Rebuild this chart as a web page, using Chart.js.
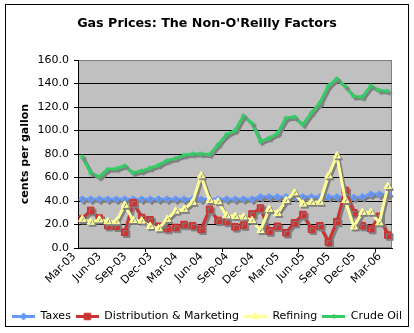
<!DOCTYPE html>
<html>
<head>
<meta charset="utf-8">
<script src="https://cdn.jsdelivr.net/npm/chart.js@4.4.0/dist/chart.umd.min.js"></script>
<style>
  html, body { margin: 0; padding: 0; background: #fff; }
  #wrap { width: 414px; height: 333px; }
</style>
</head>
<body>
<div id="wrap"><canvas id="c" width="414" height="333"></canvas></div>
<script>
// Monthly components of a gallon of gasoline, cents per gallon
const months = ['Mar-03','Apr-03','May-03','Jun-03','Jul-03','Aug-03','Sep-03','Oct-03','Nov-03','Dec-03',
  'Jan-04','Feb-04','Mar-04','Apr-04','May-04','Jun-04','Jul-04','Aug-04','Sep-04','Oct-04','Nov-04','Dec-04',
  'Jan-05','Feb-05','Mar-05','Apr-05','May-05','Jun-05','Jul-05','Aug-05','Sep-05','Oct-05','Nov-05','Dec-05',
  'Jan-06','Feb-06','Mar-06'];

const taxes = [41.5,41.5,41.5,41.5,41.5,41.5,41.5,41.5,41.5,41.5,
  41.5,41.5,41.5,41.5,41.5,41.5,41.5,41.5,41.5,41.5,41.5,43.5,
  43.5,43.5,43.5,43.5,43.5,43.5,43.5,43.5,43.5,43.5,43,43.5,
  45.7,45.7,45.7];

const distribution = [25,32,25.5,19,18.5,13.5,38.5,26,24,18.5,
  16.5,17.5,20,19,16,33,23.5,22.5,18,19.5,29,34,
  14.5,18.5,13,21.5,28.5,16,19,5,22.5,49,30,19,
  16.5,27,11];

const refining = [24.5,22,24,22.5,22.5,36.5,23.5,23,18.5,16.5,
  24.5,31.5,33,39,61.5,40.5,39.5,27.5,27,26.5,23.5,15,
  33,29.5,40.5,47,37.5,39,39,61.5,78.5,40.5,18,30.5,
  30.5,21.5,52.5];

const crudeOil = [77.5,64,60.5,67,67.5,70,64,65.5,68,70.5,
  74.3,76.3,79,80,80,79.5,88,96.5,100,112.5,106,90.5,
  93.5,97.5,110.5,111.5,105,115,123.5,138,144,137.5,129,128.5,
  138,134,133.5];

const yTicks = { min: 0, max: 160, step: 20 };

const FONT = "'DejaVu Sans', Verdana, sans-serif";
Chart.defaults.font.family = FONT;
Chart.defaults.font.size = 11;
Chart.defaults.color = '#000';

const series = [
  { label: 'Taxes', data: taxes, color: '#6699FF', style: 'rectRot', radius: 3.5, order: 3 },
  { label: 'Distribution & Marketing', data: distribution, color: '#CC3333', style: 'rect', radius: 4.6, order: 2 },
  { label: 'Refining', data: refining, color: '#FFFF99', style: 'triangle', radius: 4.2, order: 1 },
  { label: 'Crude Oil', data: crudeOil, color: '#33CC66', style: 'star', radius: 2.6, order: 0 }
];

// Small line-plus-marker swatches for the legend
function legendIcon(s) {
  const cv = document.createElement('canvas');
  cv.width = 23; cv.height = 11;
  const g = cv.getContext('2d');
  g.strokeStyle = s.color; g.lineWidth = 3;
  g.beginPath(); g.moveTo(0, 5.5); g.lineTo(23, 5.5); g.stroke();
  g.fillStyle = s.color; g.strokeStyle = s.color; g.lineWidth = 1;
  Chart.helpers.drawPoint(g, { pointStyle: s.style, radius: s.radius, rotation: 0, borderWidth: 1 }, 11.5, 5.5);
  return cv;
}
const icons = series.map(legendIcon);

const frameAndPlot = {
  id: 'frameAndPlot',
  beforeDraw(chart) {
    const { ctx, chartArea: a } = chart;
    ctx.save();
    ctx.strokeStyle = '#000'; ctx.lineWidth = 1;
    ctx.strokeRect(5.5, 4.5, 403, 322);
    ctx.fillStyle = '#C0C0C0';
    ctx.fillRect(a.left, a.top, a.right - a.left, a.bottom - a.top);
    ctx.strokeStyle = '#808080';
    ctx.strokeRect(a.left + 0.5, a.top + 0.5, a.right - a.left - 1, a.bottom - a.top - 1);
    ctx.restore();
  }
};

const seriesShadow = {
  id: 'seriesShadow',
  beforeDatasetDraw(chart) {
    const c = chart.ctx;
    c.save();
    c.shadowColor = '#808080';
    c.shadowOffsetX = 2;
    c.shadowOffsetY = 2;
    c.shadowBlur = 0;
  },
  afterDatasetDraw(chart) { chart.ctx.restore(); }
};

new Chart(document.getElementById('c'), {
  type: 'line',
  data: {
    labels: months,
    datasets: series.map(s => ({
      label: s.label,
      data: s.data,
      yAxisID: 'y',
      borderColor: s.color,
      backgroundColor: s.color,
      borderWidth: 3,
      pointStyle: s.style,
      pointRadius: s.radius,
      pointBorderWidth: 1,
      pointBorderColor: s.color,
      pointBackgroundColor: s.color,
      tension: 0,
      fill: false,
      order: s.order
    }))
  },
  options: {
    responsive: false,
    animation: false,
    devicePixelRatio: 1,
    layout: { padding: { left: 0, right: 0, top: 0, bottom: 1 } },
    plugins: {
      tooltip: { enabled: false },
      title: {
        display: true,
        text: "Gas Prices: The Non-O'Reilly Factors",
        font: { family: FONT, size: 12.7, weight: 'bold' },
        color: '#000',
        padding: { top: 16.4, bottom: 28.4 }
      },
      legend: {
        position: 'bottom',
        labels: {
          usePointStyle: true,
          pointStyleWidth: 23,
          boxHeight: 11,
          padding: 5,
          font: { family: FONT, size: 11 },
          color: '#000',
          sort: (a, b) => a.datasetIndex - b.datasetIndex,
          generateLabels(chart) {
            const items = Chart.defaults.plugins.legend.labels.generateLabels(chart);
            items.forEach(it => { it.pointStyle = icons[it.datasetIndex]; });
            return items;
          }
        }
      }
    },
    scales: {
      x: {
        type: 'category',
        offset: true,
        afterFit(scale) { scale.height = 58; },
        grid: {
          offset: true,
          drawOnChartArea: false,
          drawTicks: true,
          tickLength: 4,
          tickColor: ctx => (ctx.index % 3 === 0 ? '#000' : 'rgba(0,0,0,0)'),
          color: '#000'
        },
        border: { display: true, color: '#000', width: 1 },
        ticks: {
          autoSkip: false,
          minRotation: 45,
          maxRotation: 45,
          padding: -2,
          labelOffset: -8,
          font: { family: FONT, size: 11 },
          color: '#000',
          callback(val, i) { return i % 3 === 0 ? months[i] : null; }
        }
      },
      y: {
        min: yTicks.min,
        max: yTicks.max,
        afterFit(scale) { scale.width = 78; },
        title: {
          display: true,
          text: 'cents per gallon',
          font: { family: FONT, size: 11, weight: 'bold' },
          color: '#000',
          padding: { top: 19, bottom: 0 }
        },
        grid: {
          color: ctx => (ctx.tick && ctx.tick.value === yTicks.max ? '#808080' : '#000'),
          tickColor: '#000',
          tickLength: 4,
          lineWidth: 1
        },
        border: { display: true, color: '#000', width: 1 },
        ticks: {
          stepSize: yTicks.step,
          padding: 5,
          font: { family: FONT, size: 11 },
          color: '#000',
          callback: v => v.toFixed(1)
        }
      },
      // empty strip that keeps the plot clear of the right frame
      yRight: {
        position: 'right',
        display: true,
        min: yTicks.min,
        max: yTicks.max,
        afterFit(scale) { scale.width = 22; },
        grid: { display: false, drawOnChartArea: false },
        border: { display: false },
        ticks: { display: false }
      }
    }
  },
  plugins: [frameAndPlot, seriesShadow]
});
</script>
</body>
</html>
